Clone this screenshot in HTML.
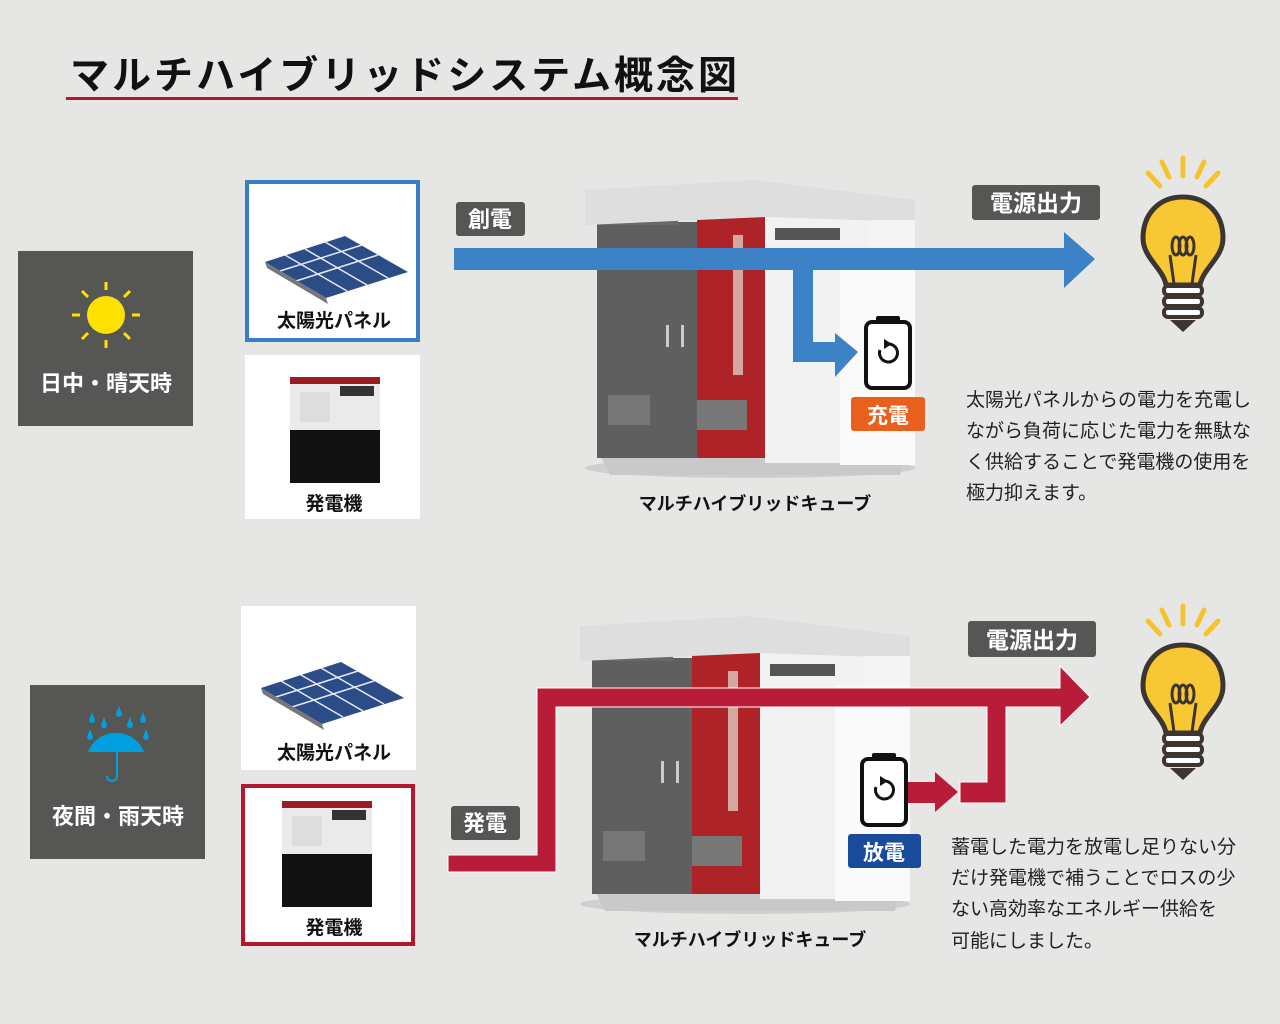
<!DOCTYPE html>
<html><head><meta charset="utf-8"><style>
html,body{margin:0;padding:0;background:#e6e7e5;}
svg{display:block;}
text{font-family:"Liberation Sans","Noto Sans CJK JP",sans-serif;}
</style></head><body>
<svg width="1280" height="1024" viewBox="0 0 1280 1024" xmlns="http://www.w3.org/2000/svg">
<defs>
<g id="cube">
  <ellipse cx="750" cy="468" rx="165" ry="10" fill="#cfd0ce"/>
  <polygon points="600,455 905,455 900,475 610,475" fill="#c9c9c9"/>
  <rect x="597" y="222" width="103" height="236" fill="#5f5f5f"/>
  <rect x="598" y="195" width="80" height="30" fill="#686868"/>
  <rect x="697" y="200" width="68" height="258" fill="#ad2328"/>
  <rect x="765" y="215" width="150" height="248" fill="#f2f2f2"/>
  <rect x="840" y="250" width="75" height="215" fill="#fafafa"/>
  <polygon points="585,190 755,180 915,200 915,222 765,217 585,225" fill="#dedede"/>
  <rect x="775" y="228" width="65" height="12" fill="#555"/>
  <rect x="608" y="395" width="42" height="30" fill="#777"/>
  <rect x="697" y="400" width="50" height="30" fill="#777"/>
  <rect x="666" y="325" width="3" height="22" fill="#ccc"/>
  <rect x="681" y="325" width="3" height="22" fill="#ccc"/>
  <rect x="733" y="235" width="10" height="140" fill="#efe" opacity="0.6"/>
  <rect x="870" y="220" width="45" height="30" fill="#f4f4f4"/>
</g>
<g id="panel">
  <polygon points="265,262 345,236 408,272 326,298" fill="#2c4c88"/>
  <g stroke="#e6e9f2" stroke-width="1.5">
    <line x1="285" y1="255" x2="347" y2="291"/><line x1="305" y1="249" x2="367" y2="285"/>
    <line x1="325" y1="242" x2="388" y2="278"/>
    <line x1="280" y1="271" x2="362" y2="245"/><line x1="296" y1="281" x2="378" y2="255"/>
  </g>
  <polygon points="265,262 326,298 328,304 267,268" fill="#777"/>
</g>
<g id="gen">
  <rect x="290" y="427" width="90" height="56" fill="#111"/>
  <rect x="290" y="380" width="90" height="50" fill="#eaeaea"/>
  <rect x="290" y="377" width="90" height="7" fill="#9b1b23"/>
  <rect x="340" y="386" width="34" height="10" fill="#333"/>
  <rect x="300" y="392" width="30" height="30" fill="#ddd"/>
</g>
<g id="bulb">
  <g stroke="#f5c42c" stroke-width="5" stroke-linecap="round">
    <line x1="1148" y1="173" x2="1160" y2="186"/><line x1="1162" y1="162" x2="1169" y2="177"/>
    <line x1="1183" y1="158" x2="1183" y2="176"/><line x1="1204" y1="162" x2="1197" y2="177"/>
    <line x1="1218" y1="173" x2="1206" y2="186"/>
  </g>
  <path d="M1183,197 C1158,197 1143,215 1143,238 C1143,258 1163,268 1166,285 L1200,285 C1203,268 1223,258 1223,238 C1223,215 1208,197 1183,197 Z" fill="#f8c834" stroke="#3d3530" stroke-width="5"/>
  <path d="M1174,284 L1170,255 M1192,284 L1196,255" stroke="#3d3530" stroke-width="3" fill="none"/>
  <ellipse cx="1176" cy="246" rx="4" ry="9" fill="none" stroke="#3d3530" stroke-width="3"/>
  <ellipse cx="1183" cy="246" rx="4" ry="9" fill="none" stroke="#3d3530" stroke-width="3"/>
  <ellipse cx="1190" cy="246" rx="4" ry="9" fill="none" stroke="#3d3530" stroke-width="3"/>
  <g fill="#fff" stroke="#3d3530" stroke-width="4">
    <rect x="1164" y="286" width="38" height="9" rx="4"/><rect x="1164" y="297" width="38" height="9" rx="4"/><rect x="1164" y="308" width="38" height="9" rx="4"/>
  </g>
  <polygon points="1170,320 1196,320 1183,332" fill="#3d3530"/>
</g>
<g id="batt">
  <rect x="876" y="316" width="24" height="8" rx="2" fill="#111"/>
  <rect x="866" y="322" width="44" height="66" rx="6" fill="#fff" stroke="#111" stroke-width="4"/>
  <path d="M880,350 A9,9 0 1 0 888,344" fill="none" stroke="#111" stroke-width="3"/>
  <polygon points="884,339 892,344 884,349" fill="#111"/>
</g>
</defs>

<text x="70" y="89" font-size="39" font-weight="bold" fill="#111" letter-spacing="3">マルチハイブリッドシステム概念図</text>
<rect x="66" y="97" width="672" height="3" fill="#b5172f"/>

<rect x="18" y="251" width="175" height="175" fill="#565755"/>
<circle cx="106" cy="315" r="19" fill="#ffe100"/>
<g stroke="#ffe100" stroke-width="3">
  <line x1="106" y1="282" x2="106" y2="290"/><line x1="106" y1="340" x2="106" y2="348"/>
  <line x1="72" y1="315" x2="80" y2="315"/><line x1="132" y1="315" x2="140" y2="315"/>
  <line x1="82" y1="291" x2="88" y2="297"/><line x1="124" y1="333" x2="130" y2="339"/>
  <line x1="130" y1="291" x2="124" y2="297"/><line x1="82" y1="339" x2="88" y2="333"/>
</g>
<text x="106" y="391" font-size="22" font-weight="bold" fill="#fff" text-anchor="middle">日中・晴天時</text>

<rect x="247" y="182" width="171" height="158" fill="#fff" stroke="#3a7ec4" stroke-width="4"/>
<use href="#panel"/>
<text x="334" y="327" font-size="19" font-weight="bold" fill="#111" text-anchor="middle">太陽光パネル</text>
<rect x="245" y="355" width="175" height="164" fill="#fff"/>
<use href="#gen"/>
<text x="334" y="510" font-size="19" font-weight="bold" fill="#111" text-anchor="middle">発電機</text>

<use href="#cube"/>
<text x="755" y="510" font-size="18" font-weight="bold" fill="#111" text-anchor="middle">マルチハイブリッドキューブ</text>

<rect x="456" y="202" width="69" height="34" rx="3" fill="#565755"/>
<text x="490" y="227" font-size="22" font-weight="bold" fill="#fff" text-anchor="middle">創電</text>
<rect x="454" y="248" width="612" height="22" fill="#3d81c6"/>
<polygon points="1064,232 1095,259 1064,288" fill="#3d81c6"/>
<rect x="793" y="260" width="20" height="102" fill="#3d81c6"/>
<rect x="793" y="342" width="44" height="20" fill="#3d81c6"/>
<polygon points="835,333 858,352 835,377" fill="#3d81c6"/>
<use href="#batt"/>
<rect x="851" y="397" width="74" height="34" rx="3" fill="#e8601c"/>
<text x="888" y="423" font-size="21" font-weight="bold" fill="#fff" text-anchor="middle">充電</text>

<rect x="972" y="185" width="128" height="35" rx="3" fill="#565755"/>
<text x="1036" y="211" font-size="23" font-weight="bold" fill="#fff" text-anchor="middle">電源出力</text>
<use href="#bulb"/>
<g font-size="19" fill="#222">
<text x="966" y="406">太陽光パネルからの電力を充電し</text>
<text x="966" y="437">ながら負荷に応じた電力を無駄な</text>
<text x="966" y="468">く供給することで発電機の使用を</text>
<text x="966" y="499">極力抑えます。</text>
</g>

<rect x="30" y="685" width="175" height="174" fill="#565755"/>
<g fill="#00a0e0">
  <path d="M88,752 A30,30 0 0 1 144,752 Z"/>
  <rect x="117" y="733" width="2" height="7"/>
  <path d="M117,752 L117,776 A5,5 0 0 1 107,776" fill="none" stroke="#00a0e0" stroke-width="2"/>
  <path d="M92,712 l3,8 a3,3 0 1 1 -6,0 z"/><path d="M104,717 l3,8 a3,3 0 1 1 -6,0 z"/>
  <path d="M119,706 l3,8 a3,3 0 1 1 -6,0 z"/><path d="M130,717 l3,8 a3,3 0 1 1 -6,0 z"/>
  <path d="M143,712 l3,8 a3,3 0 1 1 -6,0 z"/><path d="M90,729 l3,8 a3,3 0 1 1 -6,0 z"/>
  <path d="M146,729 l3,8 a3,3 0 1 1 -6,0 z"/>
</g>
<text x="118" y="824" font-size="22" font-weight="bold" fill="#fff" text-anchor="middle">夜間・雨天時</text>

<rect x="241" y="606" width="175" height="164" fill="#fff"/>
<use href="#panel" transform="translate(-4,426)"/>
<text x="334" y="759" font-size="19" font-weight="bold" fill="#111" text-anchor="middle">太陽光パネル</text>
<rect x="243" y="786" width="170" height="158" fill="#fff" stroke="#b5172f" stroke-width="4"/>
<use href="#gen" transform="translate(-8,424)"/>
<text x="334" y="934" font-size="19" font-weight="bold" fill="#111" text-anchor="middle">発電機</text>

<use href="#cube" transform="translate(-5,436)"/>
<text x="750" y="946" font-size="18" font-weight="bold" fill="#111" text-anchor="middle">マルチハイブリッドキューブ</text>

<rect x="451" y="806" width="69" height="34" rx="3" fill="#565755"/>
<text x="485" y="831" font-size="22" font-weight="bold" fill="#fff" text-anchor="middle">発電</text>
<g fill="#b91c38" stroke="#fff" stroke-width="1">
<path d="M448,855 L537,855 L537,688 L1060,688 L1060,666 L1090,697 L1060,726 L1060,707 L1006,707 L1006,803 L960,803 L960,782 L987,782 L987,707 L556,707 L556,872 L448,872 Z"/>
</g>
<rect x="907" y="782" width="30" height="21" fill="#b91c38"/>
<polygon points="935,772 958,792 935,812" fill="#b91c38"/>
<use href="#batt" transform="translate(-4,437)"/>
<rect x="848" y="834" width="73" height="34" rx="3" fill="#1a4b9b"/>
<text x="884" y="860" font-size="21" font-weight="bold" fill="#fff" text-anchor="middle">放電</text>

<rect x="968" y="621" width="128" height="36" rx="3" fill="#565755"/>
<text x="1032" y="648" font-size="23" font-weight="bold" fill="#fff" text-anchor="middle">電源出力</text>
<use href="#bulb" transform="translate(0,448)"/>
<g font-size="19" fill="#222">
<text x="951" y="853">蓄電した電力を放電し足りない分</text>
<text x="951" y="884">だけ発電機で補うことでロスの少</text>
<text x="951" y="915">ない高効率なエネルギー供給を</text>
<text x="951" y="947">可能にしました。</text>
</g>
</svg>
</body></html>
